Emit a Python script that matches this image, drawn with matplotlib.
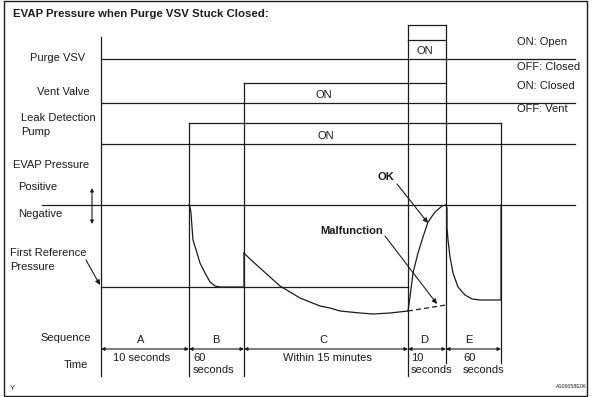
import matplotlib
matplotlib.use("Agg")
import matplotlib.pyplot as plt
from matplotlib.patches import Rectangle

plt.rcParams['font.family'] = ['Liberation Sans', 'DejaVu Sans']

# ---- diagram data (pixel-like coordinates of the original sheet) ----
phase_edges = [101, 189, 244, 408, 446, 501]
line_end = 575

seq_labels = ["A", "B", "C", "D", "E"]
seq_x = [141, 216, 323, 424, 469]
time_labels = ["10 seconds", "60\nseconds", "Within 15 minutes", "10\nseconds", "60\nseconds"]
time_x = [113, 193, 283, 411, 463]

# signal rows: off level / on level
purge_off, purge_on = 59, 40
vent_off, vent_on = 103, 83
pump_off, pump_on = 144, 123
neg_level = 205
first_ref = 287

# pressure trace pieces
b_x = [189, 190, 191, 192, 193, 197, 200, 205, 210, 215, 220, 244, 244]
b_y = [205, 207, 213, 227, 240, 253, 263, 273, 282, 286, 287, 287, 253]
c_x = [244, 250, 260, 270, 280, 290, 300, 310, 320, 330, 340, 350, 360, 373, 390, 408]
c_y = [253, 259, 268, 277, 286, 292, 298, 302, 306, 308, 311, 312, 313, 314, 313, 311]
ok_x = [408, 410, 413, 418, 423, 428, 435, 442, 446]
ok_y = [311, 297, 273, 253, 237, 222, 212, 206, 205]
bad_x = [408, 427, 446]
bad_y = [311, 308, 305]
e_x = [446, 447, 447, 448, 450, 453, 458, 465, 472, 480, 501, 501]
e_y = [205, 208, 227, 240, 257, 273, 287, 295, 299, 300, 300, 205]

fig = plt.figure(figsize=(5.94, 3.97), dpi=100)
ax = fig.add_axes([0, 0, 1, 1])
ax.set_xlim(0, 594)
ax.set_ylim(397, 0)
ax.axis("off")

ink = "#1c1c1c"
lw = 0.9
fs = 8

ax.add_patch(Rectangle((4, 1), 583, 395, fill=False, ec=ink, lw=1.0))
ax.text(13, 14, "EVAP Pressure when Purge VSV Stuck Closed:", fontsize=8.2, fontweight="bold",
        color=ink, va="center", ha="left")

# vertical phase lines
v_top = [37, pump_on, vent_on, 25, 25, pump_on]
v_bot = [376, 376, 376, 376, 363, 363]
for x, t, b in zip(phase_edges, v_top, v_bot):
    ax.plot([x, x], [t, b], color=ink, lw=lw)

x0 = phase_edges[0]
# purge VSV
ax.plot([x0, line_end], [purge_off, purge_off], color=ink, lw=lw)
ax.plot([phase_edges[3], phase_edges[4]], [purge_on, purge_on], color=ink, lw=lw)
ax.plot([phase_edges[3], phase_edges[4]], [25, 25], color=ink, lw=lw)
# vent valve
ax.plot([x0, line_end], [vent_off, vent_off], color=ink, lw=lw)
ax.plot([phase_edges[2], phase_edges[4]], [vent_on, vent_on], color=ink, lw=lw)
# leak detection pump
ax.plot([x0, line_end], [pump_off, pump_off], color=ink, lw=lw)
ax.plot([phase_edges[1], phase_edges[5]], [pump_on, pump_on], color=ink, lw=lw)

# pressure
ax.plot([42, line_end], [neg_level, neg_level], color=ink, lw=lw)
ax.plot([x0, phase_edges[3]], [first_ref, first_ref], color=ink, lw=lw)
ax.plot(b_x, b_y, color=ink, lw=lw)
ax.plot(c_x, c_y, color=ink, lw=lw)
ax.plot(ok_x, ok_y, color=ink, lw=lw)
ax.plot(bad_x, bad_y, color=ink, lw=lw, ls=(0, (4, 2.5)))
ax.plot(e_x, e_y, color=ink, lw=lw)

# left labels
left_labels = [("Purge VSV", 30, 58), ("Vent Valve", 37, 92), ("Leak Detection", 21, 118),
               ("Pump", 21, 132), ("EVAP Pressure", 13, 165), ("Positive", 18, 187),
               ("Negative", 18, 214), ("First Reference", 10, 253), ("Pressure", 10, 267)]
for s, x, y in left_labels:
    ax.text(x, y, s, fontsize=fs, color=ink, ha="left", va="center")
ax.text(91, 338, "Sequence", fontsize=fs, color=ink, ha="right", va="center")
ax.text(88, 365, "Time", fontsize=fs, color=ink, ha="right", va="center")
ax.text(10, 388, "Y", fontsize=5.5, color=ink, ha="left", va="center")
ax.text(587, 386, "A106058E06", fontsize=3.8, color=ink, ha="right", va="center")

# right labels
for s, y in [("ON: Open", 42), ("OFF: Closed", 67), ("ON: Closed", 86), ("OFF: Vent", 109)]:
    ax.text(517, y, s, fontsize=fs, color=ink, ha="left", va="center")
for s, x, y in [("ON", 324, 95), ("ON", 326, 136), ("ON", 425, 51)]:
    ax.text(x, y, s, fontsize=fs, color=ink, ha="center", va="center")

# sequence / time row
for s, x in zip(seq_labels, seq_x):
    ax.text(x, 340, s, fontsize=fs, color=ink, ha="center", va="center")
for s, x in zip(time_labels, time_x):
    ax.text(x, 353, s, fontsize=fs, color=ink, ha="left", va="top", linespacing=1.25)
for xa, xb in zip(phase_edges[:-1], phase_edges[1:]):
    ax.annotate("", xy=(xb, 349), xytext=(xa, 349),
                arrowprops=dict(arrowstyle="<|-|>", color=ink, lw=0.8, mutation_scale=5,
                                shrinkA=0, shrinkB=0))

# annotation arrows
arr = dict(arrowstyle="-|>", color=ink, lw=0.8, mutation_scale=7, shrinkA=0, shrinkB=0)
ax.annotate("", xy=(92, 188), xytext=(92, 224),
            arrowprops=dict(arrowstyle="<|-|>", color=ink, lw=0.8, mutation_scale=5,
                            shrinkA=0, shrinkB=0))
ax.annotate("", xy=(100, 285), xytext=(86, 260), arrowprops=arr)
ax.text(386, 177, "OK", fontsize=fs, fontweight="bold", color=ink, ha="center", va="center")
ax.annotate("", xy=(428, 223), xytext=(397, 184), arrowprops=arr)
ax.text(352, 231, "Malfunction", fontsize=fs, fontweight="bold", color=ink, ha="center", va="center")
ax.annotate("", xy=(437, 304), xytext=(385, 236), arrowprops=arr)

fig.savefig("out.png", dpi=100)
